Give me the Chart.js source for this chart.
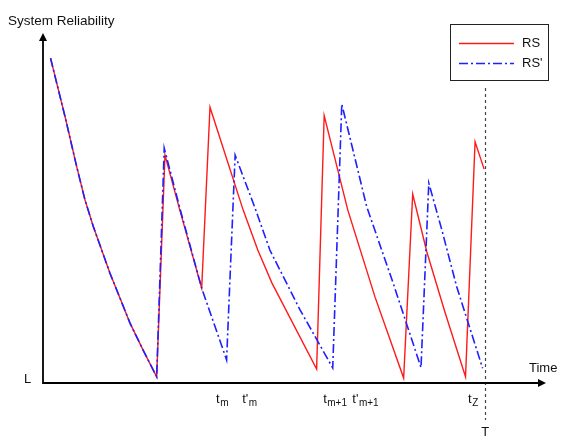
<!DOCTYPE html>
<html>
<head>
<meta charset="utf-8">
<script src="https://cdn.jsdelivr.net/npm/chart.js@4"></script>
<style>
  body { margin: 0; background: #fff; }
  #wrap { width: 561px; height: 436px; position: relative; }
</style>
</head>
<body>
<div id="wrap"><canvas id="myChart"></canvas></div>
<script>
// RS (solid red) - time / reliability pairs
const rsTime = [1.5, 4.4, 6.7, 8.35, 10.0, 13.3, 15.3, 17.3, 19.9, 22.6, 24.25, 27.2, 31.55, 33.2, 39.8, 42.7, 45.5, 54.4,
  55.9, 60.6, 66.0, 71.7, 73.5, 76.3, 79.9, 84.0, 85.9, 87.7];
const rsValue = [0.928, 0.760, 0.618, 0.523, 0.447, 0.314, 0.243, 0.171, 0.094, 0.018, 0.651, 0.494, 0.271, 0.788, 0.494, 0.380, 0.286, 0.040,
  0.764, 0.494, 0.246, 0.014, 0.540, 0.375, 0.203, 0.018, 0.689, 0.611];

// RS' (blue dash-dot)
const rs2Time = [1.5, 4.4, 6.7, 8.35, 10.0, 13.3, 15.3, 17.3, 19.9, 22.6, 24.1, 27.2, 31.55, 36.5, 38.2, 42.15, 45.1, 51.1, 57.6,
  59.4, 64.35, 69.6, 75.15, 76.7, 79.3, 82.25, 87.4];
const rs2Value = [0.928, 0.760, 0.618, 0.523, 0.447, 0.314, 0.243, 0.171, 0.094, 0.018, 0.671, 0.50, 0.271, 0.066, 0.651, 0.50, 0.380, 0.209, 0.043,
  0.797, 0.504, 0.286, 0.044, 0.571, 0.437, 0.275, 0.042];

// labels under the time axis
const tickNames = ['t', "t'", 't', "t'", 't'];
const tickSubs = ['m', 'm', 'm+1', 'm+1', 'Z'];
const tickTimes = [34.4, 39.6, 55.7, 61.5, 84.5];
const endTime = 87.9;   // T

function toPoints(xs, ys) {
  return xs.map((x, i) => ({ x: x, y: ys[i] }));
}

const FONT = '"Liberation Sans", Arial, sans-serif';

const overlay = {
  id: 'overlay',
  beforeDatasetsDraw(chart) {
    const c = chart.ctx, a = chart.chartArea;
    const xs = chart.scales.x;
    c.save();
    // dashed line at T
    const tx = Math.round(xs.getPixelForValue(endTime)) + 0.5;
    c.strokeStyle = '#444';
    c.lineWidth = 1.2;
    c.setLineDash([3, 3]);
    c.beginPath();
    c.moveTo(tx, 88);
    c.lineTo(tx, 420);
    c.stroke();
    c.setLineDash([]);

    // axes with arrow heads
    c.strokeStyle = '#000';
    c.fillStyle = '#000';
    c.lineWidth = 1.8;
    c.beginPath();
    c.moveTo(a.left, a.top + 6);
    c.lineTo(a.left, a.bottom);
    c.lineTo(a.right - 6, a.bottom);
    c.stroke();
    c.beginPath();
    c.moveTo(a.left, a.top);
    c.lineTo(a.left - 4, a.top + 8);
    c.lineTo(a.left + 4, a.top + 8);
    c.closePath();
    c.fill();
    c.beginPath();
    c.moveTo(a.right, a.bottom);
    c.lineTo(a.right - 8, a.bottom - 4);
    c.lineTo(a.right - 8, a.bottom + 4);
    c.closePath();
    c.fill();
    c.restore();
  },
  afterDatasetsDraw(chart) {
    const c = chart.ctx;
    const xs = chart.scales.x;
    c.save();
    c.fillStyle = '#111';
    c.textBaseline = 'alphabetic';
    c.textAlign = 'left';
    c.font = '13.5px ' + FONT;
    c.fillText('System Reliability', 8, 25);
    c.font = '13px ' + FONT;
    c.fillText('Time', 529, 372);
    c.fillText('L', 24, 383);

    // tick labels with subscripts
    tickTimes.forEach((t, i) => {
      const x = xs.getPixelForValue(t);
      c.font = '13px ' + FONT;
      c.fillText(tickNames[i], x, 403);
      const w = c.measureText(tickNames[i]).width;
      c.font = '10px ' + FONT;
      c.fillText(tickSubs[i], x + w + 0.5, 406);
    });
    c.font = '13px ' + FONT;
    c.textAlign = 'center';
    c.fillText('T', xs.getPixelForValue(endTime), 436);

    // legend box
    c.strokeStyle = '#222';
    c.lineWidth = 1;
    c.strokeRect(450.5, 24.5, 98, 56);
    chart.data.datasets.forEach((ds, i) => {
      const y = 43.5 + i * 20;
      c.strokeStyle = ds.borderColor;
      c.lineWidth = 1.5;
      c.setLineDash(ds.borderDash || []);
      c.beginPath();
      c.moveTo(459, y);
      c.lineTo(514, y);
      c.stroke();
      c.setLineDash([]);
      c.fillStyle = '#111';
      c.textAlign = 'left';
      c.textBaseline = 'middle';
      c.font = '13px ' + FONT;
      c.fillText(ds.label, 522, y);
    });
    c.restore();
  }
};

let ctx = document.getElementById('myChart').getContext('2d');
let chart = new Chart(ctx, {
  type: 'line',
  data: {
    datasets: [{
      label: 'RS',
      data: toPoints(rsTime, rsValue),
      borderColor: '#ff1a1a',
      borderWidth: 1.4,
      pointRadius: 0,
      tension: 0,
      order: 2
    }, {
      label: "RS'",
      data: toPoints(rs2Time, rs2Value),
      borderColor: '#1f1fff',
      borderWidth: 1.6,
      borderDash: [9, 3, 2, 3],
      pointRadius: 0,
      tension: 0,
      order: 1
    }]
  },
  options: {
    responsive: true,
    maintainAspectRatio: false,
    animation: false,
    layout: { padding: { left: 43, right: 15, top: 33, bottom: 53 } },
    plugins: { legend: { display: false }, tooltip: { enabled: false } },
    scales: {
      x: { type: 'linear', min: 0, max: 100, display: false },
      y: { type: 'linear', min: 0, max: 1, display: false }
    }
  },
  plugins: [overlay]
});
</script>
</body>
</html>
